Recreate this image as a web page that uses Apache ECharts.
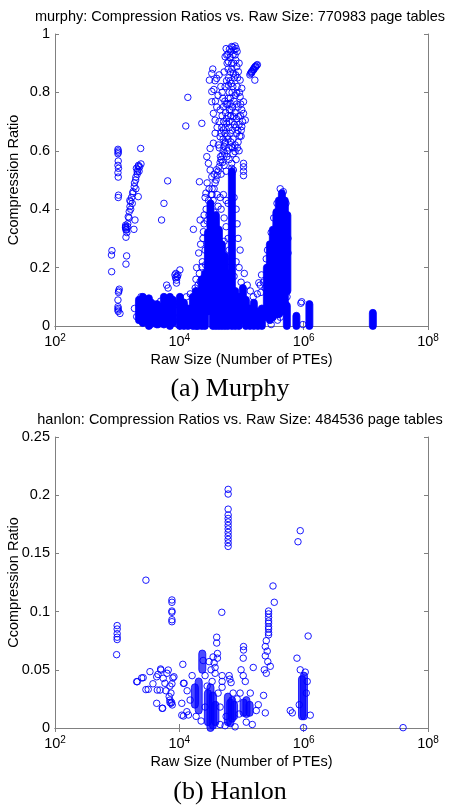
<!DOCTYPE html>
<html><head><meta charset="utf-8">
<script src="https://cdn.jsdelivr.net/npm/echarts@6/dist/echarts.min.js"></script>
<style>html,body{margin:0;padding:0;background:#fff}#c{width:452px;height:805px}</style>
</head><body><div id="c"></div>
<script>
const murphyTitle = 'murphy: Compression Ratios vs. Raw Size: 770983 page tables';
const hanlonTitle = 'hanlon: Compression Ratios vs. Raw Size: 484536 page tables';
const captions = ['(a) Murphy', '(b) Hanlon'];
const xAxisTitle = 'Raw Size (Number of PTEs)';
const yAxisTitle = 'Ccompression Ratio';
const xTickValues = [1e2, 1e4, 1e6, 1e8];
const murphyYTicks = [0, 0.2, 0.4, 0.6, 0.8, 1];
const hanlonYTicks = [0, 0.05, 0.1, 0.15, 0.2, 0.25];

// murphy: individual page tables (raw size, compression ratio)
const murphyPoints = [
[824,0.258],[810,0.243],[815,0.186],
[1030,0.605],[1035,0.6],[1040,0.595],[1030,0.59],[1040,0.565],[1030,0.55],[1050,0.54],[1030,0.525],[1040,0.51],[1050,0.448],[1040,0.44],
[1080,0.126],[1060,0.12],[1050,0.115],[1030,0.089],[1030,0.066],[1040,0.06],[1030,0.055],[1040,0.05],[1110,0.043],
[1420,0.24],[1385,0.212],
[1370,0.345],[1370,0.34],[1375,0.335],[1380,0.33],[1365,0.338],[1385,0.304],[1420,0.329],[1475,0.34],[1508,0.374],[1606,0.409],[1648,0.426],[1775,0.454],[1883,0.477],[1984,0.5],[2103,0.528],[2183,0.546],[2040,0.54],[2387,0.608],[2415,0.555],[1933,0.363],[1862,0.331],[1565,0.392],[2183,0.443],
[1700,0.44],[1800,0.46],[1900,0.49],[2000,0.51],[2100,0.52],[2150,0.535],[2200,0.55],[1650,0.40],[1550,0.37],[1480,0.35],[1430,0.32],[1600,0.43],[2250,0.53],[2300,0.545],[2000,0.47],[1750,0.42],
[6490,0.497],[5655,0.42],[5180,0.363],[16830,0.331],[21050,0.494],[12700,0.685],[13700,0.783],[23000,0.694],[26800,0.455],[21600,0.363],[24400,0.323],[21600,0.152],[23000,0.203],
[2060,0.032],[2415,0.1],[8500,0.175],[8800,0.18],[9000,0.17],[9300,0.168],[8700,0.165],[9500,0.175],[10220,0.192],[9000,0.157],[6250,0.14],[6600,0.13],[9000,0.147],
[2700,0.05],[2900,0.03],[3900,0.06],[4200,0.04],[5000,0.085],[5900,0.06],[6300,0.02],[7300,0.05],[8200,0.07],[9800,0.03],[10000,0.08],[1900,0.06],[2500,0.015],[3500,0.005],[4600,0.005],[13000,0.1],[15000,0.11],[18000,0.13],[9500,0.005],
[78800,0.959],[69600,0.957],[63900,0.948],[58000,0.928],[54500,0.922],[61600,0.905],[69600,0.90],[78800,0.928],[84000,0.888],[89000,0.871],[74100,0.865],[94950,0.842],[101000,0.814],[84000,0.797],[94950,0.785],[107800,0.768],[101000,0.74],[89000,0.717],[107800,0.728],[115000,0.705],[101000,0.683],[84000,0.66],
[33300,0.865],[30450,0.842],[39900,0.848],[33300,0.803],[33300,0.768],[35300,0.728],[37640,0.705],[45300,0.74],[54500,0.82],[61600,0.825],[51200,0.751],[65600,0.763],[74100,0.717],[58000,0.694],[51200,0.671],[65600,0.66],[45300,0.648],[37640,0.66],[42500,0.62],[35300,0.626],[31280,0.608],[54500,0.626],[69600,0.614],[78800,0.597],
[54500,0.63],[52500,0.615],[50600,0.60],[48800,0.585],[47000,0.57],[45300,0.56],[43700,0.545],[42000,0.53],[40500,0.515],[39000,0.50],[37600,0.49],[36250,0.52],[39700,0.535],
[27650,0.58],[29350,0.557],[31280,0.534],[33300,0.511],[27990,0.49],[30100,0.47],[25950,0.44],[33680,0.45],[36250,0.47],
[69600,0.557],[69600,0.54],[69600,0.52],[74100,0.534],[107800,0.557],[107800,0.545],[107800,0.53],[107800,0.515],
[60900,0.88],[73300,0.93],[65600,0.92],[58700,0.9],[85000,0.94],[91500,0.9],[76000,0.85],[65600,0.84],[85000,0.82],[70600,0.8],[60900,0.78],[76000,0.77],[88100,0.75],[56550,0.76],[68000,0.74],[78800,0.73],[60900,0.72],[48800,0.72],[70600,0.7],[91500,0.69],[63200,0.68],[81900,0.68],[54500,0.66],[73300,0.64],[60900,0.64],[88100,0.63],[47000,0.66],[58700,0.6],[73300,0.59],[63200,0.57],[52500,0.55],[56550,0.53],[47000,0.52],[81900,0.57],[91500,0.6],[98500,0.65],[43700,0.7],[40500,0.68],[48800,0.8],[43700,0.86],[37600,0.84],[52500,0.87],[56550,0.95],
[50600,0.64],[54500,0.68],[58700,0.65],[63200,0.7],[67000,0.72],[71800,0.75],[66000,0.78],[72500,0.82],[79500,0.79],[84000,0.76],[80500,0.86],[75000,0.9],[81000,0.91],[66500,0.87],[62000,0.85],[57500,0.84],[70000,0.88],[86500,0.85],[92500,0.8],[97000,0.76],[96000,0.72],[104000,0.7],[99000,0.67],[93500,0.65],[86000,0.61],[79000,0.62],[72000,0.61],[67500,0.63],[62500,0.61],[58000,0.58],[53500,0.59],[49500,0.56],[46000,0.58],[44000,0.61],[48000,0.68],[51500,0.7],[55500,0.73],[59500,0.76],[63500,0.8],[68500,0.83],[72800,0.955],[66800,0.94],[75500,0.945],[60500,0.93],[82000,0.95],[71000,0.67],[76800,0.69],[83000,0.71],[87500,0.67],[64000,0.74],[57000,0.71],[54000,0.77],[50000,0.78],[46500,0.82],[42000,0.79],[40000,0.75],[38000,0.77],[36000,0.81],[34500,0.88],
[25050,0.38],[27990,0.36],[36250,0.39],[42000,0.41],[47000,0.4],[52500,0.37],[56550,0.34],[60900,0.3],[63200,0.26],[65600,0.22],[56550,0.43],[51200,0.45],[45300,0.44],[60900,0.42],[76000,0.44],[81900,0.4],[85000,0.35],[88100,0.3],[94950,0.26],[81900,0.22],[91500,0.2],[76000,0.17],[98500,0.15],[110900,0.18],[123700,0.14],[138500,0.12],[154600,0.1],[179500,0.11],[52500,0.29],[40500,0.45],[33680,0.47],
[19000,0.2],[20500,0.25],[22000,0.28],[24000,0.3],[26000,0.26],[23500,0.22],[21000,0.18],[25000,0.35],[27000,0.4],[29500,0.43],[32500,0.45],[35000,0.43],[30000,0.38],[20000,0.14],[22500,0.12],[18500,0.16],[26500,0.21],
[136400,0.86],[140000,0.865],[144000,0.87],[148000,0.872],[152000,0.876],[156000,0.88],[160000,0.884],[165000,0.888],[170000,0.89],[176000,0.893],[180000,0.895],[146000,0.867],[158000,0.878],[168000,0.886],[164000,0.842],
[250000,0.23],[262000,0.26],[300000,0.32],[330000,0.37],[372000,0.42],[420000,0.47],[470000,0.46],[520000,0.42],[560000,0.3],[560000,0.25],[540000,0.1],[380000,0.02],[300000,0.005],[480000,0.05],[420000,0.03],[240000,0.13],[225000,0.15],[210000,0.175],[200000,0.14],[190000,0.148],[205000,0.115],
[901000,0.078],[930000,0.083],[971000,0.005]
];
// murphy: runs of page tables so dense that circles merge (raw size, lowest ratio, highest ratio)
const murphyDense = [
[2240,0.02,0.09],[2590,0.01,0.1],[3240,0.0,0.095],[3560,0.01,0.08],[4370,0.005,0.075],[4880,0.01,0.065],[5650,0.005,0.1],[7060,0.0,0.1],[7880,0.01,0.09],[10220,0.0,0.1],[11860,0.0,0.08],[13750,0.0,0.06],[16540,0.0,0.1],[18470,0.0,0.12],
[19900,0,0.1],[22980,0,0.16],[25790,0,0.18],[28820,0.05,0.32],[31700,0.1,0.42],[34680,0,0.3],[38760,0,0.38],[43290,0,0.33],[48370,0,0.28],[54060,0,0.24],[60410,0,0.18],[70050,0,0.53],[79400,0,0.12],[90700,0,0.1],[105250,0.02,0.13],[117600,0,0.09],[136400,0,0.06],[158000,0,0.08],[183400,0,0.05],[212600,0,0.06],
[256000,0.03,0.2],[285900,0.02,0.28],[319400,0.03,0.33],[363700,0.04,0.39],[399000,0.04,0.43],[446200,0.05,0.455],[498000,0.07,0.43],[547000,0.12,0.38],
[536000,0,0.07],[764000,0,0.035],[1236000,0,0.075],[12970000,0,0.045]
];

// hanlon: individual page tables
const hanlonPoints = [
[1000,0.088],[1000,0.085],[1000,0.081],[1000,0.078],[1000,0.076],[980,0.063],
[2900,0.127],
[7600,0.110],[7600,0.108],[7600,0.1005],[7600,0.0994],[7600,0.093],[7600,0.0913],
[61000,0.205],[61000,0.201],[61000,0.188],[61000,0.183],[61000,0.18],[61000,0.177],[61000,0.174],[61000,0.171],[61000,0.168],[61000,0.165],[61000,0.162],[61000,0.159],[61000,0.156],
[48200,0.0994],
[881000,0.1695],[810000,0.16],[321000,0.122],[336800,0.108],
[272500,0.1005],[272500,0.098],[272500,0.095],[272500,0.092],[272500,0.09],[272500,0.087],[272500,0.085],[272500,0.082],[272500,0.08],[250500,0.075],[241500,0.07],[259500,0.066],[241500,0.062],[265000,0.057],[290300,0.053],[232600,0.05],[250500,0.047],
[1180000,0.079],[780000,0.06],[39750000,0.0003],[995000,0.0003],
[2060,0.0398],[2620,0.0432],[3370,0.0484],[3160,0.0332],[4320,0.044],[5060,0.0498],[6630,0.0498],[5510,0.0427],[5870,0.0384],[7060,0.036],[4880,0.0326],[6090,0.032],[4320,0.0212],[5310,0.0169],[7060,0.024],[7330,0.0212],[7690,0.0198],[11650,0.0384],[11380,0.0547],[10950,0.0212],[11650,0.0103],[14000,0.0112],[2900,0.033],[7060,0.022],[10950,0.011],[3764,0.038],[4530,0.046],[6320,0.047],[7330,0.03],[7600,0.038],[7880,0.043],[2110,0.0398],[2480,0.043],[5000,0.0507],[8190,0.044],[4420,0.0326],[5390,0.017],[6870,0.027],[7520,0.022],[11930,0.0384],[13200,0.014],
[25950,0.018],[27990,0.036],[33680,0.04],[25950,0.045],[42000,0.03],[45300,0.018],[48780,0.045],[48780,0.04],[48780,0.035],[63200,0.045],[65000,0.042],[68000,0.039],[39900,0.078],[39900,0.073],[41000,0.064],[41000,0.06],[37640,0.052],[37640,0.047],[34900,0.061],[36250,0.056],[91500,0.012],[84970,0.025],[94950,0.03],[107800,0.07],[107800,0.067],[106600,0.06],[98500,0.05],[106600,0.045],[115000,0.04],[154600,0.052],[138500,0.03],[172800,0.015],[186200,0.02],[226500,0.028],[241500,0.013],[609000,0.015],[656000,0.013],[881000,0.05],[1060000,0.048],[1100000,0.03],[1277000,0.011],[1140000,0.04],[850000,0.02],[54500,0.002],[45300,0.003],[78800,0.001],[119300,0.005],[149100,0.003],[18620,0.01],[22400,0.006],[14910,0.024],[16060,0.045],[13350,0.032],[56550,0.01],[32400,0.05],[30100,0.057],[24150,0.058],[73300,0.03]
];
// hanlon: merged runs (raw size, lowest ratio, highest ratio)
const hanlonDense = [
[17800,0.02,0.035],[20500,0.015,0.04],[23400,0.05,0.064],[28800,0.005,0.03],[31700,0.0,0.035],[34700,0.002,0.028],[38000,0.005,0.02],[60400,0.005,0.027],[66000,0.004,0.022],[70600,0.008,0.024],[76000,0.01,0.02],[108000,0.013,0.022],[120000,0.012,0.024],[135000,0.013,0.02],[940000,0.01,0.042],[1010000,0.01,0.045]
];

const SANS = '"Liberation Sans", Arial, Helvetica, sans-serif';
const SERIF = '"Liberation Serif", "Times New Roman", serif';
const FS = 14.5;
const AXIS = '#808080';
const BLUE = '#0000ff';

function xAxes(gridIndex) {
  const base = {
    type: 'log', logBase: 100, min: xTickValues[0], max: xTickValues[xTickValues.length - 1],
    gridIndex, splitLine: {show: false},
    axisLine: {lineStyle: {color: AXIS, width: 1}},
    axisTick: {inside: true, length: 4, lineStyle: {color: AXIS}},
    minorTick: {show: false}
  };
  return [
    Object.assign({}, base, {
      position: 'bottom',
      name: xAxisTitle, nameLocation: 'middle', nameGap: 26, nameMoveOverlap: false,
      nameTextStyle: {fontFamily: SANS, fontSize: FS, color: '#000'},
      axisLabel: {
        margin: 7,
        formatter: v => '{b|10}{s|' + Math.round(Math.log10(v)) + '}',
        rich: {
          b: {fontFamily: SANS, fontSize: FS, color: '#000'},
          s: {fontFamily: SANS, fontSize: 10, color: '#000', padding: [0, 0, 8, 0]}
        }
      }
    }),
    Object.assign({}, base, {position: 'top', axisLabel: {show: false}})
  ];
}
function yAxes(gridIndex, ticks) {
  const base = {
    type: 'value', min: ticks[0], max: ticks[ticks.length - 1], interval: ticks[1] - ticks[0],
    gridIndex, splitLine: {show: false},
    axisLine: {show: true, lineStyle: {color: AXIS, width: 1}},
    axisTick: {show: true, inside: true, length: 4, lineStyle: {color: AXIS}}
  };
  return [
    Object.assign({}, base, {
      position: 'left',
      name: yAxisTitle, nameLocation: 'middle', nameGap: 34, nameMoveOverlap: false,
      nameTextStyle: {fontFamily: SANS, fontSize: FS, color: '#000'},
      axisLabel: {fontFamily: SANS, fontSize: FS, color: '#000', margin: 5}
    }),
    Object.assign({}, base, {position: 'right', axisLabel: {show: false}})
  ];
}
function denseSeries(data, xi, yi, fill) {
  return {
    type: 'custom', xAxisIndex: xi, yAxisIndex: yi, data, clip: false,
    encode: {x: 0, y: [1, 2]}, silent: true,
    renderItem: (params, api) => {
      const p0 = api.coord([api.value(0), api.value(1)]);
      const p1 = api.coord([api.value(0), api.value(2)]);
      const w = 7;
      return {type: 'rect', shape: {x: p0[0] - w / 2, y: p1[1] - w / 2, width: w, height: p0[1] - p1[1] + w, r: w / 2},
        style: {fill: fill, stroke: BLUE, lineWidth: 0.8}};
    }
  };
}
function pointSeries(data, xi, yi) {
  return {
    type: 'scatter', xAxisIndex: xi, yAxisIndex: yi, data, symbol: 'circle', symbolSize: 6.5,
    silent: true, animation: false, large: false,
    itemStyle: {color: 'rgba(0,0,0,0)', borderColor: BLUE, borderWidth: 0.9, opacity: 1}
  };
}

const chart = echarts.init(document.getElementById('c'), null, {renderer: 'canvas'});
chart.setOption({
  animation: false,
  backgroundColor: '#fff',
  grid: [
    {left: 55, right: 24, top: 34, height: 292, show: false, containLabel: false, outerBoundsMode: 'none'},
    {left: 55, right: 24, top: 437, height: 291, show: false, containLabel: false, outerBoundsMode: 'none'}
  ],
  xAxis: [...xAxes(0), ...xAxes(1)],
  yAxis: [...yAxes(0, murphyYTicks), ...yAxes(1, hanlonYTicks)],
  series: [
    denseSeries(murphyDense, 0, 0, BLUE),
    pointSeries(murphyPoints, 0, 0),
    denseSeries(hanlonDense, 2, 2, 'rgba(0,0,255,0.7)'),
    pointSeries(hanlonPoints, 2, 2)
  ],
  graphic: [
    {type: 'text', x: 240, y: 17, style: {text: murphyTitle, font: FS + 'px ' + SANS, fill: '#000', textAlign: 'center', textVerticalAlign: 'middle'}},
    {type: 'text', x: 240, y: 420, style: {text: hanlonTitle, font: FS + 'px ' + SANS, fill: '#000', textAlign: 'center', textVerticalAlign: 'middle'}},
    {type: 'text', x: 230, y: 389, style: {text: captions[0], font: '26px ' + SERIF, fill: '#000', textAlign: 'center', textVerticalAlign: 'middle'}},
    {type: 'text', x: 230, y: 792, style: {text: captions[1], font: '26px ' + SERIF, fill: '#000', textAlign: 'center', textVerticalAlign: 'middle'}}
  ]
});
</script></body></html>
